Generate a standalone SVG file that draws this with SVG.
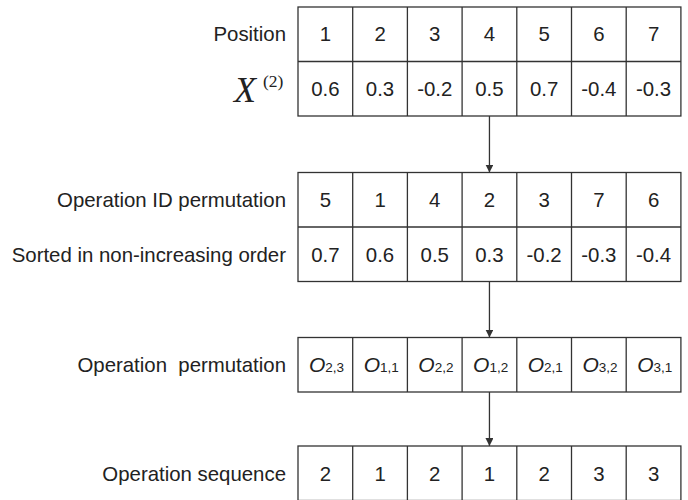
<svg xmlns="http://www.w3.org/2000/svg" width="688" height="500" viewBox="0 0 688 500">
  <style>
    .grid { fill: #ffffff; stroke: #333333; stroke-width: 1.3; }
    .sep { stroke: #333333; stroke-width: 1.3; }
    .lbl { font-family: "Liberation Sans", Arial, sans-serif; font-size: 20.4px; fill: #222222; text-anchor: end; white-space: pre; }
    .val { font-family: "Liberation Sans", Arial, sans-serif; font-size: 20.4px; fill: #222222; text-anchor: middle; }
    .op { font-family: "Liberation Sans", Arial, sans-serif; font-size: 21px; font-style: italic; fill: #222222; text-anchor: middle; }
    .sub { font-size: 13.5px; font-style: normal; }
    .link { stroke: #333333; stroke-width: 1.3; fill: none; marker-end: url(#arrow); }
  </style>
  <defs>
    <marker id="arrow" viewBox="0 0 8 8" refX="8" refY="4" markerWidth="8" markerHeight="8" markerUnits="userSpaceOnUse" orient="auto">
      <path d="M0,0 L8,4 L0,8 z" fill="#333333"/>
    </marker>
    <!-- seven-column grid, columns 54.7 wide starting at x=298 -->
    <g id="cols1row">
      <line class="sep" x1="352.7" y1="0" x2="352.7" y2="54.5"/>
      <line class="sep" x1="407.4" y1="0" x2="407.4" y2="54.5"/>
      <line class="sep" x1="462.1" y1="0" x2="462.1" y2="54.5"/>
      <line class="sep" x1="516.8" y1="0" x2="516.8" y2="54.5"/>
      <line class="sep" x1="571.5" y1="0" x2="571.5" y2="54.5"/>
      <line class="sep" x1="626.2" y1="0" x2="626.2" y2="54.5"/>
    </g>
  </defs>

  <!-- Position / X(2) table -->
  <g id="position-table">
    <rect class="grid" x="298" y="7" width="382.9" height="109"/>
    <line class="sep" x1="298" y1="61.5" x2="680.9" y2="61.5"/>
    <use href="#cols1row" y="7"/>
    <use href="#cols1row" y="61.5"/>
    <text class="lbl" x="286" y="41">Position</text>
    <text x="234" y="101.5" font-family="'Liberation Serif', 'Times New Roman', serif" font-size="36" font-style="italic" fill="#222222">X</text>
    <text x="263" y="87" font-family="'Liberation Serif', 'Times New Roman', serif" font-size="17.5" fill="#222222">(2)</text>
    <g class="val">
      <text x="325.35" y="41">1</text>
      <text x="380.05" y="41">2</text>
      <text x="434.75" y="41">3</text>
      <text x="489.45" y="41">4</text>
      <text x="544.15" y="41">5</text>
      <text x="598.85" y="41">6</text>
      <text x="653.55" y="41">7</text>
      <text x="325.35" y="96">0.6</text>
      <text x="380.05" y="96">0.3</text>
      <text x="434.75" y="96">-0.2</text>
      <text x="489.45" y="96">0.5</text>
      <text x="544.15" y="96">0.7</text>
      <text x="598.85" y="96">-0.4</text>
      <text x="653.55" y="96">-0.3</text>
    </g>
  </g>

  <!-- Operation ID permutation / sorted values table -->
  <g id="sorted-table">
    <rect class="grid" x="298" y="172.5" width="382.9" height="109"/>
    <line class="sep" x1="298" y1="227" x2="680.9" y2="227"/>
    <use href="#cols1row" y="172.5"/>
    <use href="#cols1row" y="227"/>
    <text class="lbl" x="286" y="206.5">Operation ID permutation</text>
    <text class="lbl" x="286" y="261.5">Sorted in non-increasing order</text>
    <g class="val">
      <text x="325.35" y="206.5">5</text>
      <text x="380.05" y="206.5">1</text>
      <text x="434.75" y="206.5">4</text>
      <text x="489.45" y="206.5">2</text>
      <text x="544.15" y="206.5">3</text>
      <text x="598.85" y="206.5">7</text>
      <text x="653.55" y="206.5">6</text>
      <text x="325.35" y="261.5">0.7</text>
      <text x="380.05" y="261.5">0.6</text>
      <text x="434.75" y="261.5">0.5</text>
      <text x="489.45" y="261.5">0.3</text>
      <text x="544.15" y="261.5">-0.2</text>
      <text x="598.85" y="261.5">-0.3</text>
      <text x="653.55" y="261.5">-0.4</text>
    </g>
  </g>

  <!-- Operation permutation table -->
  <g id="operation-permutation">
    <rect class="grid" x="298" y="337.5" width="382.9" height="54.5"/>
    <use href="#cols1row" y="337.5"/>
    <text class="lbl" x="286" y="372">Operation  permutation</text>
    <g class="op">
      <text x="326.5" y="372">O<tspan class="sub">2,3</tspan></text>
      <text x="381.2" y="372">O<tspan class="sub">1,1</tspan></text>
      <text x="435.9" y="372">O<tspan class="sub">2,2</tspan></text>
      <text x="490.6" y="372">O<tspan class="sub">1,2</tspan></text>
      <text x="545.3" y="372">O<tspan class="sub">2,1</tspan></text>
      <text x="600" y="372">O<tspan class="sub">3,2</tspan></text>
      <text x="654.7" y="372">O<tspan class="sub">3,1</tspan></text>
    </g>
  </g>

  <!-- Operation sequence table -->
  <g id="operation-sequence">
    <rect class="grid" x="298" y="446" width="382.9" height="54.5"/>
    <use href="#cols1row" y="446"/>
    <text class="lbl" x="286" y="480.5">Operation sequence</text>
    <g class="val">
      <text x="325.35" y="480.5">2</text>
      <text x="380.05" y="480.5">1</text>
      <text x="434.75" y="480.5">2</text>
      <text x="489.45" y="480.5">1</text>
      <text x="544.15" y="480.5">2</text>
      <text x="598.85" y="480.5">3</text>
      <text x="653.55" y="480.5">3</text>
    </g>
  </g>

  <!-- transformation arrows -->
  <g id="connectors">
    <line class="link" x1="489.45" y1="116" x2="489.45" y2="172.5"/>
    <line class="link" x1="489.45" y1="281.5" x2="489.45" y2="337.5"/>
    <line class="link" x1="489.45" y1="392" x2="489.45" y2="446"/>
  </g>
</svg>
